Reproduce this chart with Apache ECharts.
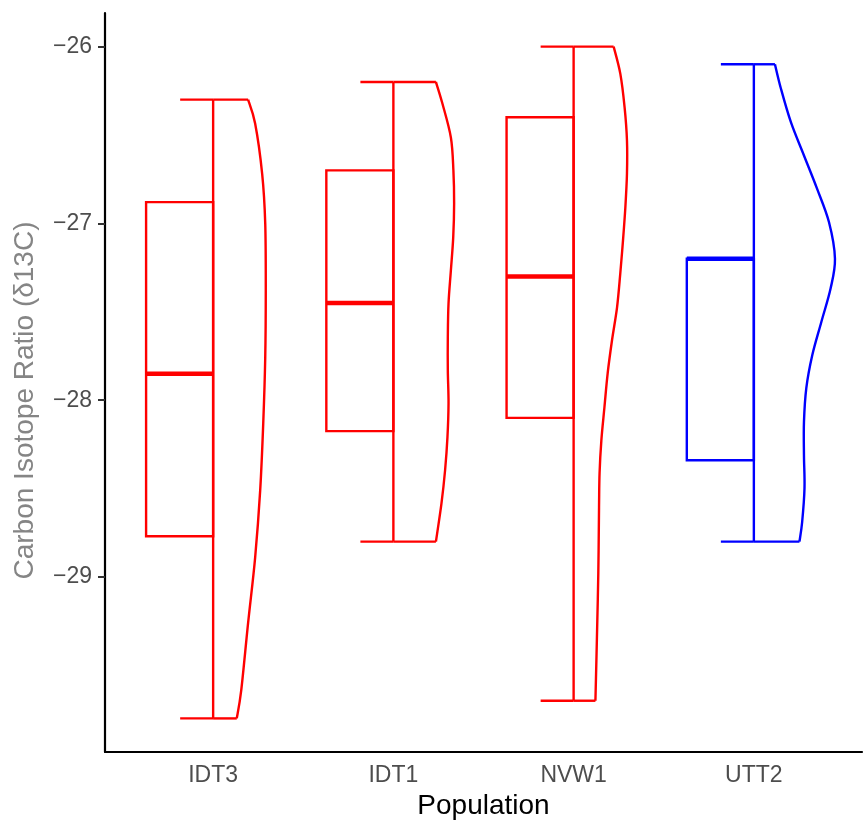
<!DOCTYPE html>
<html>
<head>
<meta charset="utf-8">
<script src="https://cdn.jsdelivr.net/npm/echarts@6/dist/echarts.min.js"></script>
<style>
html,body{margin:0;padding:0;background:#fff;}
#chart{width:865px;height:835px;}
</style>
</head>
<body>
<div id="chart"></div>
<script>
// ---- data ----
const categories = ['IDT3', 'IDT1', 'NVW1', 'UTT2'];
const groups = ['red', 'red', 'red', 'blue'];
const whiskerLow = [-29.80, -28.80, -29.70, -28.80];
const q1 = [-28.77, -28.175, -28.10, -28.34];
const median = [-27.85, -27.45, -27.30, -27.20];
const q3 = [-26.88, -26.70, -26.40, -27.20];
const whiskerHigh = [-26.30, -26.20, -26.00, -26.10];
const yTicks = [-29, -28, -27, -26];

// violin density profiles (value, half-width in category units)
const violinY_IDT3 = [-26.30, -26.435, -26.72, -27.00, -27.38, -27.76, -28.13, -28.51, -28.89, -29.26, -29.64, -29.80];
const violinW_IDT3 = [0.194, 0.233, 0.272, 0.289, 0.292, 0.289, 0.278, 0.261, 0.233, 0.194, 0.156, 0.131];
const violinY_IDT1 = [-26.20, -26.322, -26.514, -26.70, -26.887, -27.079, -27.266, -27.452, -27.644, -27.831, -28.017, -28.209, -28.395, -28.582, -28.80];
const violinW_IDT1 = [0.236, 0.272, 0.319, 0.333, 0.337, 0.332, 0.319, 0.306, 0.302, 0.302, 0.306, 0.300, 0.287, 0.267, 0.236];
const violinY_NVW1 = [-26.00, -26.153, -26.345, -26.531, -26.718, -26.910, -27.096, -27.282, -27.475, -27.661, -27.847, -28.040, -28.226, -28.412, -28.605, -28.977, -29.356, -29.70];
const violinW_NVW1 = [0.222, 0.259, 0.283, 0.296, 0.296, 0.287, 0.274, 0.259, 0.241, 0.213, 0.189, 0.171, 0.154, 0.144, 0.141, 0.137, 0.129, 0.121];
const violinY_UTT2 = [-26.10, -26.237, -26.429, -26.616, -26.802, -26.994, -27.20, -27.367, -27.559, -27.746, -27.932, -28.124, -28.311, -28.497, -28.689, -28.80];
const violinW_UTT2 = [0.117, 0.150, 0.206, 0.278, 0.350, 0.417, 0.450, 0.426, 0.374, 0.324, 0.291, 0.278, 0.278, 0.281, 0.268, 0.253];

const violinY = [violinY_IDT3, violinY_IDT1, violinY_NVW1, violinY_UTT2];
const violinW = [violinW_IDT3, violinW_IDT1, violinW_NVW1, violinW_UTT2];

// ---- styles ----
const groupColor = { red: '#FF0000', blue: '#0000FF' };
const BOX_HALF = 0.372;
const CAP_HALF = 0.183;
const LW = 2.4;
const FONT = "'Liberation Sans', Arial, sans-serif";

const seriesData = categories.map((c, i) => [i + 1, whiskerLow[i], q1[i], median[i], q3[i], whiskerHigh[i], i]);

// Catmull-Rom spline through pixel points -> SVG path (rendering only)
function splinePath(pts) {
  let d = 'M' + pts[0][0] + ',' + pts[0][1];
  for (let i = 0; i < pts.length - 1; i++) {
    const p0 = pts[i - 1] || pts[i];
    const p1 = pts[i];
    const p2 = pts[i + 1];
    const p3 = pts[i + 2] || pts[i + 1];
    const c1x = p1[0] + (p2[0] - p0[0]) / 6, c1y = p1[1] + (p2[1] - p0[1]) / 6;
    const c2x = p2[0] - (p3[0] - p1[0]) / 6, c2y = p2[1] - (p3[1] - p1[1]) / 6;
    d += ' C' + c1x + ',' + c1y + ' ' + c2x + ',' + c2y + ' ' + p2[0] + ',' + p2[1];
  }
  return d;
}

function renderItem(params, api) {
  const x = api.value(0);
  const lo = api.value(1), bq1 = api.value(2), med = api.value(3), bq3 = api.value(4), hi = api.value(5);
  const idx = api.value(6);
  const color = groupColor[groups[idx]];
  const children = [];
  const line = (a, b, lw) => ({
    type: 'line',
    shape: { x1: a[0], y1: a[1], x2: b[0], y2: b[1] },
    style: { stroke: color, lineWidth: lw || LW }
  });
  // box (left half)
  const p1 = api.coord([x - BOX_HALF, bq3]);
  const p2 = api.coord([x, bq1]);
  children.push({
    type: 'rect',
    shape: { x: p1[0], y: p1[1], width: p2[0] - p1[0], height: p2[1] - p1[1] },
    style: { stroke: color, lineWidth: LW, fill: null }
  });
  // median
  children.push(line(api.coord([x - BOX_HALF, med]), api.coord([x, med]), 4.5));
  // whisker
  children.push(line(api.coord([x, lo]), api.coord([x, hi])));
  // caps (left of center)
  children.push(line(api.coord([x - CAP_HALF, hi]), api.coord([x, hi])));
  children.push(line(api.coord([x - CAP_HALF, lo]), api.coord([x, lo])));
  // violin (right half)
  const vy = violinY[idx], vw = violinW[idx];
  const pts = vy.map((v, k) => api.coord([x + vw[k], v]));
  children.push({
    type: 'path',
    shape: { pathData: splinePath(pts) },
    style: { stroke: color, lineWidth: LW, fill: null }
  });
  children.push(line(api.coord([x, vy[0]]), pts[0]));
  children.push(line(api.coord([x, vy[vy.length - 1]]), pts[pts.length - 1]));
  return { type: 'group', children: children };
}

const chart = echarts.init(document.getElementById('chart'), null, { renderer: 'canvas' });
chart.setOption({
  backgroundColor: '#fff',
  animation: false,
  grid: { left: 105, right: 3, top: 13, bottom: 83, containLabel: false },
  xAxis: {
    type: 'value',
    min: 0.4,
    max: 4.6,
    name: 'Population',
    nameLocation: 'middle',
    nameGap: 38,
    nameTextStyle: { fontFamily: FONT, fontSize: 28, color: '#000' },
    axisLine: { show: true, onZero: false, lineStyle: { color: '#000', width: 2.2 } },
    axisTick: { show: false },
    splitLine: { show: false },
    axisLabel: {
      customValues: [1, 2, 3, 4],
      formatter: v => categories[Math.round(v) - 1] || '',
      fontFamily: FONT, fontSize: 23, color: '#4D4D4D', margin: 12
    }
  },
  yAxis: {
    type: 'value',
    min: -29.99,
    max: -25.81,
    name: 'Carbon Isotope Ratio (δ13C)',
    nameLocation: 'middle',
    nameGap: 66,
    nameTextStyle: { fontFamily: FONT, fontSize: 28, color: '#858585', padding: [0, 36, 0, 0] },
    axisLine: { show: true, onZero: false, lineStyle: { color: '#000', width: 2.2 } },
    axisTick: { show: true, customValues: yTicks, length: 7, lineStyle: { color: '#333', width: 2 } },
    splitLine: { show: false },
    axisLabel: {
      customValues: yTicks,
      formatter: v => String(v).replace('-', '\u2212'),
      fontFamily: FONT, fontSize: 23, color: '#4D4D4D', margin: 13
    }
  },
  series: [{
    type: 'custom',
    renderItem: renderItem,
    encode: { x: 0, y: [1, 2, 3, 4, 5] },
    data: seriesData,
    clip: false
  }]
});
</script>
</body>
</html>
